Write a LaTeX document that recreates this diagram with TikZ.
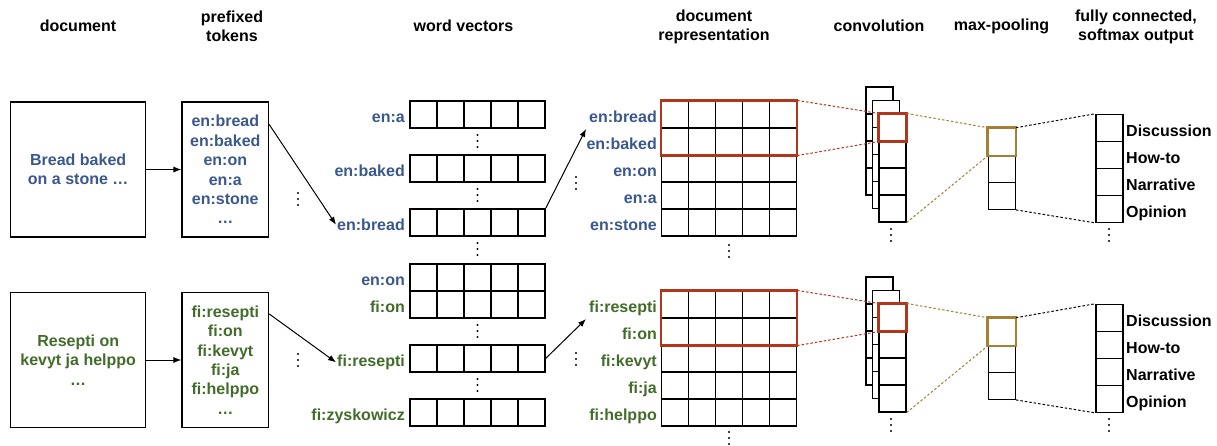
\documentclass[tikz,border=0pt]{standalone}
\usepackage{fontspec}
\setmainfont{Liberation Sans}
\usetikzlibrary{arrows.meta,calc}
\definecolor{enc}{RGB}{58,88,140}
\definecolor{fic}{RGB}{66,108,42}
\definecolor{redc}{RGB}{180,54,26}
\definecolor{goldc}{RGB}{163,128,52}
\begin{document}
\begin{tikzpicture}[x=1pt,y=-1pt,
 font=\fontsize{16}{19.4}\selectfont\bfseries,
 cell/.style={draw, line width=1.2pt, minimum size=27pt, inner sep=0pt, fill=white},
 lbl/.style={inner sep=1pt},
 title/.style={align=center, font=\fontsize{16}{19}\selectfont\bfseries},
 box/.style={draw, line width=1.2pt, align=center, inner sep=0pt},
 arr/.style={-{Latex[length=8pt,width=6pt]}, line width=1pt},
 dsh/.style={line width=1pt, dash pattern=on 2.5pt off 2pt},
 hl/.style={line width=2.5pt},
 vdts/.pic={\fill (0,-6) circle (1.1) (0,0) circle (1.1) (0,6) circle (1.1);}
]
\useasboundingbox (0,0) rectangle (1217,445);

% titles
\node[title] (t1) at (78,26) {document};
\node[title] (t2) at (232,26.5) {prefixed\\tokens};
\node[title] (t3) at (463.5,26) {word vectors};
\node[title] (t4) at (714,26.5) {document\\representation};
\node[title] (t5) at (879,26) {convolution};
\node[title] (t6) at (1001.5,26) {max-pooling};
\node[title] (t7) at (1136,26.5) {fully connected,\\softmax output};

% documents
\node[box, minimum width=135pt, minimum height=135pt, text=enc] (docA) at (78.2,169.5) {Bread baked\\on a stone …};
\node[box, minimum width=135pt, minimum height=135pt, text=fic] (docB) at (78.2,360) {Resepti on\\kevyt ja helppo\\…};

% tokens
\node[box, minimum width=86.5pt, minimum height=135pt, text=enc] (tokA) at (225.3,169.5) {en:bread\\en:baked\\en:on\\en:a\\en:stone\\…};
\node[box, minimum width=86.5pt, minimum height=135pt, text=fic] (tokB) at (225.3,360) {fi:resepti\\fi:on\\fi:kevyt\\fi:ja\\fi:helppo\\…};

\draw[arr] (docA.east) -- (tokA.west);
\draw[arr] (docB.east) -- (tokB.west);

% word vectors
\foreach \n/\y in {wa/114.5, wb/168.5, wc/222.5, wd/277.5, we/304.5, wf/358.5, wg/412.5}{
  \foreach \i in {1,...,5} \node[cell] (\n\i) at ({396.5+27*\i},\y) {};
}
\foreach \n/\y/\t/\c in {wa/114.5/en:a/enc, wb/168.5/en:baked/enc, wc/222.5/en:bread/enc, wd/277.5/en:on/enc, we/304.5/fi:on/fic, wf/358.5/fi:resepti/fic, wg/412.5/fi:zyskowicz/fic}{
  \node[lbl, text=\c, anchor=base east] (\n l) at (406,{\y+8}) {\t};
}
\foreach \y in {141,195,249,331,385} \pic at (477.5,\y) {vdts};

% dots between tokens and word vectors
\pic at (298,199) {vdts};
\pic at (298,360) {vdts};

\draw[arr] ($(tokA.north east)+(0,23)$) -- (wcl.west);
\draw[arr] ($(tokB.north east)+(0,22)$) -- (wfl.west);

% document representation
\foreach \h/\oy in {A/0, B/190}{
  \foreach \r in {1,...,5}{
    \foreach \i in {1,...,5} \node[cell] (d\h\r\i) at ({648+27*\i},{101+\oy+27*\r-13.5}) {};
  }
}
\foreach \r/\t in {1/en:bread, 2/en:baked, 3/en:on, 4/en:a, 5/en:stone}{
  \node[lbl, text=enc, anchor=base east] (dAl\r) at (658,{101+27*\r-13.5+8}) {\t};
}
\foreach \r/\t in {1/fi:resepti, 2/fi:on, 3/fi:kevyt, 4/fi:ja, 5/fi:helppo}{
  \node[lbl, text=fic, anchor=base east] (dBl\r) at (658,{291+27*\r-13.5+8}) {\t};
}
\draw[hl, draw=redc] (dA11.north west) rectangle (dA25.south east);
\draw[hl, draw=redc] (dB11.north west) rectangle (dB25.south east);
\pic at (729,251) {vdts};
\pic at (729,438) {vdts};
\pic at (576,183) {vdts};
\pic at (576,359) {vdts};

\draw[arr] (wc5.north east) -- ($(dAl1.south west)+(-2,5)$);
\draw[arr] (wf5.east) -- ($(dBl1.south west)+(-2,2)$);

% convolution stacks
\foreach \h/\oy in {A/0, B/190}{
  \foreach \l/\ox/\oyy in {1/0/0, 2/6.5/13.5, 3/13/27}{
    \foreach \i in {1,...,4} \node[cell] (c\h\l\i) at ({879.5+\ox},{87+\oy+\oyy+27*\i-13.5}) {};
  }
}
\draw[hl, draw=redc] (cA31.north west) rectangle (cA31.south east);
\draw[hl, draw=redc] (cB31.north west) rectangle (cB31.south east);
\pic at (891,235) {vdts};
\pic at (891,425) {vdts};

\draw[dsh, draw=redc] (dA15.north east) -- (cA31.north west);
\draw[dsh, draw=redc] (dA25.south east) -- (cA31.south west);
\draw[dsh, draw=redc] (dB15.north east) -- (cB31.north west);
\draw[dsh, draw=redc] (dB25.south east) -- (cB31.south west);

% max pooling
\foreach \h/\oy in {A/0, B/190}{
  \foreach \i in {1,...,3} \node[cell] (p\h\i) at (1001.8,{128.3+\oy+27*\i-13.5}) {};
}
\draw[hl, draw=goldc] (pA1.north west) rectangle (pA1.south east);
\draw[hl, draw=goldc] (pB1.north west) rectangle (pB1.south east);

\draw[dsh, draw=goldc] (cA31.north east) -- (pA1.north west);
\draw[dsh, draw=goldc] (cA34.south east) -- (pA1.south west);
\draw[dsh, draw=goldc] (cB31.north east) -- (pB1.north west);
\draw[dsh, draw=goldc] (cB34.south east) -- (pB1.south west);

% fully connected
\foreach \h/\oy in {A/0, B/190}{
  \foreach \i/\t in {1/Discussion, 2/How-to, 3/Narrative, 4/Opinion}{
    \node[cell] (f\h\i) at (1109.5,{114.3+\oy+27*\i-13.5}) {};
    \node[lbl, anchor=base west] (f\h l\i) at (1125,{114.3+\oy+27*\i-13.5+8.5}) {\t};
  }
}
\pic at (1109,235) {vdts};
\pic at (1109,425) {vdts};

\draw[dsh] (pA1.north east) -- (fA1.north west);
\draw[dsh] (pA3.south east) -- (fA4.south west);
\draw[dsh] (pB1.north east) -- (fB1.north west);
\draw[dsh] (pB3.south east) -- (fB4.south west);
\end{tikzpicture}
\end{document}
